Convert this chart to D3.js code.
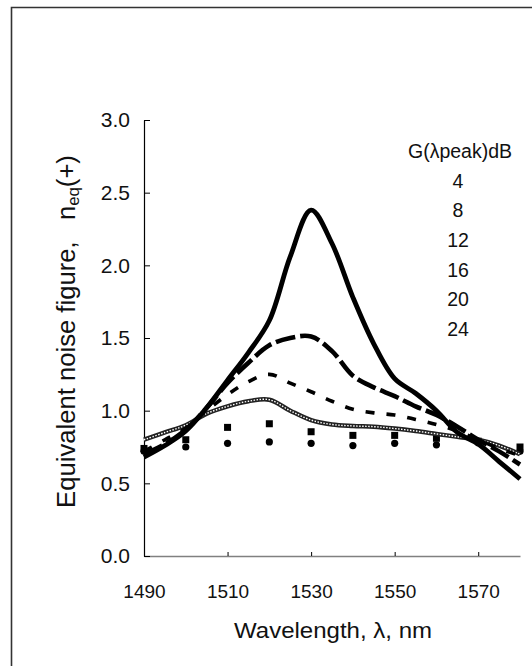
<!DOCTYPE html>
<html>
<head>
<meta charset="utf-8">
<script src="https://cdn.jsdelivr.net/npm/d3@7"></script>
<style>
  body { margin: 0; background: #fff; }
  svg { display: block; font-family: Arial, "Liberation Sans", sans-serif; }
</style>
</head>
<body>
<script>
// Marker series (every 10 nm)
var lamMarks = [1490, 1500, 1510, 1520, 1530, 1540, 1550, 1560, 1570, 1580];
var g4 = [0.72, 0.75, 0.775, 0.785, 0.775, 0.76, 0.775, 0.765, 0.78, 0.72];
var g8 = [0.74, 0.80, 0.885, 0.91, 0.855, 0.83, 0.83, 0.81, 0.79, 0.75];

// Line series (every 5 nm)
var lamLines = [1490, 1495, 1500, 1505, 1510, 1515, 1520, 1525, 1530, 1535,
                1540, 1545, 1550, 1555, 1560, 1565, 1570, 1575, 1580];
var g12 = [0.80, 0.85, 0.90, 0.98, 1.03, 1.065, 1.075, 1.00, 0.935, 0.905,
           0.895, 0.89, 0.877, 0.86, 0.84, 0.82, 0.80, 0.76, 0.70];
var g16 = [0.72, 0.80, 0.88, 1.00, 1.11, 1.20, 1.25, 1.19, 1.13, 1.065,
           1.01, 0.985, 0.97, 0.94, 0.905, 0.86, 0.80, 0.74, 0.69];
var g20 = [0.70, 0.77, 0.87, 1.02, 1.19, 1.33, 1.45, 1.50, 1.51, 1.41,
           1.24, 1.16, 1.10, 1.03, 0.97, 0.89, 0.80, 0.72, 0.63];
var g24 = [0.68, 0.76, 0.86, 1.02, 1.21, 1.40, 1.62, 2.06, 2.38, 2.15,
           1.78, 1.46, 1.22, 1.12, 1.00, 0.85, 0.77, 0.65, 0.53];

var legendTitle = 'G(\u03bbpeak)dB';
var gains = ['4', '8', '12', '16', '20', '24'];
var xTicks = [1490, 1510, 1530, 1550, 1570];
var yTicks = [0, 0.5, 1, 1.5, 2, 2.5, 3];

var W = 532, H = 666;
var plotL = 144, plotR = 520, plotT = 120, plotB = 556;

var svg = d3.select('body').append('svg')
  .attr('width', W)
  .attr('height', H);

// outer frame (runs off the right and bottom edges)
svg.append('path')
  .attr('d', 'M11.5,' + (H + 5) + 'V7.5H' + (W + 5))
  .attr('fill', 'none')
  .attr('stroke', '#333')
  .attr('stroke-width', 1.6);

var x = d3.scaleLinear().domain([1490, 1580]).range([plotL, plotR]);
var y = d3.scaleLinear().domain([0, 3]).range([plotB, plotT]);

// x axis
var gx = svg.append('g')
  .attr('transform', 'translate(0,' + plotB + ')')
  .call(d3.axisBottom(x).tickValues(xTicks).tickFormat(d3.format('d'))
    .tickSizeInner(-4).tickSizeOuter(0).tickPadding(29));
gx.select('.domain').attr('stroke', '#808080').attr('stroke-width', 1.5);
gx.selectAll('.tick line').attr('stroke', '#000');
gx.selectAll('.tick text').attr('font-size', 19).attr('fill', '#111')
  .attr('font-family', 'Arial, "Liberation Sans", sans-serif');

// y axis
var gy = svg.append('g')
  .attr('transform', 'translate(' + plotL + ',0)')
  .call(d3.axisLeft(y).tickValues(yTicks).tickFormat(d3.format('.1f'))
    .tickSizeInner(-6).tickSizeOuter(0).tickPadding(14));
gy.select('.domain').attr('stroke', '#000').attr('stroke-width', 1.2);
gy.selectAll('.tick line').attr('stroke', '#000');
gy.selectAll('.tick text').attr('font-size', 21).attr('fill', '#111')
  .attr('font-family', 'Arial, "Liberation Sans", sans-serif');

// markers
svg.append('g').selectAll('rect')
  .data(lamMarks)
  .enter()
  .append('rect')
  .attr('x', function(d) { return x(d) - 3.5; })
  .attr('y', function(d, i) { return y(g8[i]) - 3.5; })
  .attr('width', 7)
  .attr('height', 7)
  .attr('fill', '#000');

svg.append('g').selectAll('circle')
  .data(lamMarks)
  .enter()
  .append('circle')
  .attr('cx', function(d) { return x(d); })
  .attr('cy', function(d, i) { return y(g4[i]); })
  .attr('r', 3.6)
  .attr('fill', '#000');

// lines
function lineFor(vals) {
  return d3.line()
    .x(function(d) { return x(d); })
    .y(function(d, i) { return y(vals[i]); })
    .curve(d3.curveCatmullRom.alpha(0.5))(lamLines);
}

// G = 12: chain-like textured line
svg.append('path')
  .attr('d', lineFor(g12))
  .attr('fill', 'none')
  .attr('stroke', '#222')
  .attr('stroke-width', 4.5);
svg.append('path')
  .attr('d', lineFor(g12))
  .attr('fill', 'none')
  .attr('stroke', '#fff')
  .attr('stroke-width', 1.4)
  .attr('stroke-dasharray', '1.5,1.5');

// G = 16: short dashes
svg.append('path')
  .attr('d', lineFor(g16))
  .attr('fill', 'none')
  .attr('stroke', '#000')
  .attr('stroke-width', 3.6)
  .attr('stroke-dasharray', '9,12');

// G = 20: long dashes
svg.append('path')
  .attr('d', lineFor(g20))
  .attr('fill', 'none')
  .attr('stroke', '#000')
  .attr('stroke-width', 4.6)
  .attr('stroke-dasharray', '20,5');

// G = 24: solid
svg.append('path')
  .attr('d', lineFor(g24))
  .attr('fill', 'none')
  .attr('stroke', '#000')
  .attr('stroke-width', 4.8)
  .attr('stroke-linejoin', 'round');

// legend (text only)
svg.append('text')
  .attr('x', 460)
  .attr('y', 158)
  .attr('text-anchor', 'middle')
  .attr('font-size', 19.5)
  .attr('fill', '#111')
  .text(legendTitle);

svg.append('g').selectAll('text')
  .data(gains)
  .enter()
  .append('text')
  .attr('x', 458)
  .attr('y', function(d, i) { return 187.5 + i * 29.7; })
  .attr('text-anchor', 'middle')
  .attr('font-size', 19.5)
  .attr('fill', '#111')
  .text(function(d) { return d; });

// axis titles
svg.append('text')
  .attr('x', 333)
  .attr('y', 638)
  .attr('text-anchor', 'middle')
  .attr('font-size', 22)
  .attr('fill', '#111')
  .attr('textLength', 198)
  .attr('lengthAdjust', 'spacingAndGlyphs')
  .text('Wavelength, \u03bb, nm');

// y title, fitted to the original's length
var yt = svg.append('text')
  .attr('text-anchor', 'middle')
  .attr('font-size', 26)
  .attr('fill', '#111');
yt.append('tspan').text('Equivalent noise figure,\u00a0\u00a0\u00a0n');
yt.append('tspan').attr('font-size', 17).attr('dy', 4).text('eq');
yt.append('tspan').attr('dy', -4).text('(+)');
var ytLen = yt.node().getComputedTextLength();
yt.attr('transform', 'translate(75,331.5) rotate(-90) scale(' + (353 / ytLen) + ',1)');
</script>
</body>
</html>
